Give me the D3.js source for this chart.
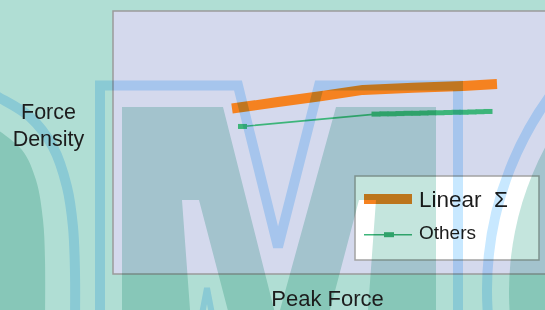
<!DOCTYPE html>
<html>
<head>
<meta charset="utf-8">
<script src="https://cdn.jsdelivr.net/npm/d3@7/dist/d3.min.js"></script>
<style>
  html, body { margin: 0; padding: 0; background: #b0ded4; overflow: hidden; }
  svg { display: block; }
  .overlay { mix-blend-mode: multiply; }
  text { font-family: "Liberation Sans", Arial, sans-serif; fill: #1c1c1c; }
</style>
</head>
<body>
<div id="chart"></div>
<script>
var svgWidth = 545;
var svgHeight = 310;

// plot box runs past the right edge of the window, as in the original
var plot = { left: 113, top: 11, right: 613, bottom: 274 };

// data (arbitrary units 0-100 on both axes)
var linearX = [23.8, 33.0, 41.8, 50.0, 60.0, 70.0, 76.8];
var linearY = [62.9, 65.4, 67.7, 70.0, 70.8, 71.5, 72.2];

var othersX = [25.9, 52.6, 54.2, 55.8, 57.4, 59.0, 60.6, 62.2, 63.8, 65.4, 67.0, 68.6, 70.2, 71.8, 73.4, 75.0];
var othersY = [56.1, 60.8, 60.9, 60.9, 61.0, 61.1, 61.1, 61.2, 61.3, 61.3, 61.4, 61.5, 61.5, 61.6, 61.7, 61.8];

var seriesNames = ["Linear\u00a0\u00a0\u03a3", "Others"];
var xLabel = "Peak Force";
var yLabel = ["Force", "Density"];

var svg = d3.select("#chart")
  .append("svg")
  .attr("width", svgWidth)
  .attr("height", svgHeight);

// base
svg.append("rect")
  .attr("width", svgWidth)
  .attr("height", svgHeight)
  .attr("fill", "#b0ded4");

svg.append("rect")
  .attr("x", plot.left)
  .attr("y", plot.top)
  .attr("width", plot.right - plot.left)
  .attr("height", plot.bottom - plot.top)
  .attr("fill", "#d4d9ed")
  .attr("stroke", "#9a9a9a")
  .attr("stroke-width", 1.5);

// scales
var xScale = d3.scaleLinear().domain([0, 100]).range([plot.left, plot.right]);
var yScale = d3.scaleLinear().domain([0, 100]).range([plot.bottom, plot.top]);

var linearData = linearX.map((x, i) => ({ x: x, y: linearY[i] }));
var othersData = othersX.map((x, i) => ({ x: x, y: othersY[i] }));

var line = d3.line()
  .x(d => xScale(d.x))
  .y(d => yScale(d.y));

svg.append("path")
  .datum(linearData)
  .attr("d", line)
  .attr("fill", "none")
  .attr("stroke", "#f58220")
  .attr("stroke-width", 10)
  .attr("stroke-linejoin", "round");

svg.append("path")
  .datum(othersData)
  .attr("d", line)
  .attr("fill", "none")
  .attr("stroke", "#3db57a")
  .attr("stroke-width", 1.6);

svg.selectAll(".mk")
  .data(othersData)
  .enter()
  .append("rect")
  .attr("class", "mk")
  .attr("x", d => xScale(d.x) - 4.5)
  .attr("y", d => yScale(d.y) - 2.5)
  .attr("width", 9)
  .attr("height", 5)
  .attr("fill", "#3db57a");

// legend
var legend = svg.append("g").attr("transform", "translate(355,176)");
legend.append("rect")
  .attr("width", 184)
  .attr("height", 84)
  .attr("fill", "#ffffff")
  .attr("stroke", "#a3a3a3")
  .attr("stroke-width", 1.5);
legend.append("rect")
  .attr("x", 9).attr("y", 18)
  .attr("width", 48).attr("height", 10)
  .attr("fill", "#f58220");
legend.append("line")
  .attr("x1", 9).attr("x2", 57)
  .attr("y1", 58.7).attr("y2", 58.7)
  .attr("stroke", "#3db57a")
  .attr("stroke-width", 1.6);
legend.append("rect")
  .attr("x", 29).attr("y", 56.2)
  .attr("width", 10).attr("height", 5)
  .attr("fill", "#3db57a");

// background logo, laid over everything with multiply
var deco = svg.append("g").attr("class", "overlay");
var mFill = "rgb(196,229,221)";
var blue = "rgb(200,232,255)";

var mShape = [[122,330],[122,107],[223,107],[277,321],[336,107],[436,107],[436,330],
  [366.5,330],[376,200],[359,200],[324.7,330],[233,330],[199,200],[182,200],[191.5,330]];
deco.append("path")
  .attr("d", d3.line()(mShape) + "Z")
  .attr("fill", mFill);

var mOutline = [[100,330],[100,85.5],[238,85.5],[278,247],[319,85.5],[458,85.5],[458,330]];
deco.append("path")
  .attr("d", d3.line()(mOutline))
  .attr("fill", "none")
  .attr("stroke", blue)
  .attr("stroke-width", 10)
  .attr("stroke-linejoin", "miter");

deco.append("path")
  .attr("d", d3.line()([[199,330],[207,288],[215,330]]))
  .attr("fill", "none")
  .attr("stroke", blue)
  .attr("stroke-width", 6);

// left letter
var leftFill = [[-5,128],[22,150],[36,180],[43,220],[45,260],[45,320]];
deco.append("path")
  .attr("d", d3.line().curve(d3.curveCatmullRom)(leftFill) + "L-5,320Z")
  .attr("fill", mFill);
var leftArc = [[-10,93],[0,98],[30,117],[53,147],[67,187],[73,227],[75,273],[75,320]];
deco.append("path")
  .attr("d", d3.line().curve(d3.curveCatmullRom)(leftArc))
  .attr("fill", "none")
  .attr("stroke", blue)
  .attr("stroke-width", 10);

// right letter
deco.append("circle")
  .attr("cx", 817).attr("cy", 292).attr("r", 308)
  .attr("fill", mFill);
deco.append("circle")
  .attr("cx", 817).attr("cy", 290).attr("r", 330)
  .attr("fill", "none")
  .attr("stroke", blue)
  .attr("stroke-width", 10);

// texts on top
legend.append("text")
  .attr("x", 64).attr("y", 31)
  .style("font-size", "22.5px")
  .text(seriesNames[0]);
legend.append("text")
  .attr("x", 64).attr("y", 63)
  .style("font-size", "19px")
  .text(seriesNames[1]);

svg.append("text")
  .attr("x", 48.5)
  .attr("text-anchor", "middle")
  .style("font-size", "21.5px")
  .selectAll("tspan")
  .data(yLabel)
  .enter()
  .append("tspan")
  .attr("x", 48.5)
  .attr("y", (d, i) => 119 + i * 26.5)
  .text(d => d);

svg.append("text")
  .attr("x", 327.5)
  .attr("y", 306)
  .attr("text-anchor", "middle")
  .style("font-size", "22px")
  .text(xLabel);
</script>
</body>
</html>
